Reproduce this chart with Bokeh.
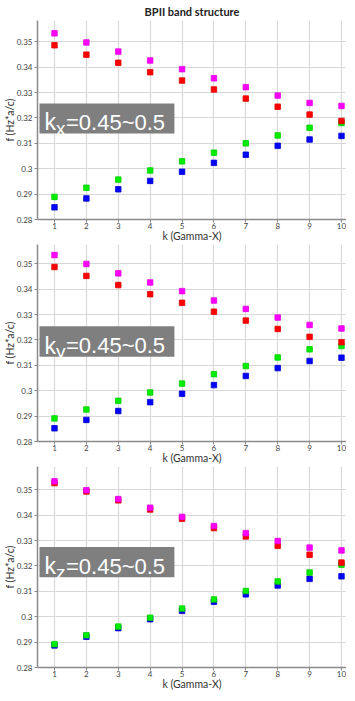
from bokeh.plotting import figure
from bokeh.layouts import column
from bokeh.models import FixedTicker, BoxAnnotation, Label, Range1d, ColumnDataSource
from bokeh.embed import file_html
from bokeh.resources import INLINE

# ---------------- data ----------------
k = [1, 2, 3, 4, 5, 6, 7, 8, 9, 10]

# panel 1: kx = 0.45~0.5
mag_x = [0.3533, 0.3497, 0.3461, 0.3426, 0.3392, 0.3356, 0.3321, 0.3288, 0.3259, 0.3247]
red_x = [0.3486, 0.3449, 0.3417, 0.3380, 0.3347, 0.3312, 0.3276, 0.3244, 0.3213, 0.3188]
grn_x = [0.2889, 0.2925, 0.2957, 0.2993, 0.3029, 0.3063, 0.3100, 0.3131, 0.3161, 0.3180]
blu_x = [0.2848, 0.2883, 0.2919, 0.2952, 0.2988, 0.3023, 0.3055, 0.3090, 0.3115, 0.3129]

# panel 2: ky = 0.45~0.5
mag_y = [0.3534, 0.3499, 0.3462, 0.3426, 0.3392, 0.3355, 0.3322, 0.3288, 0.3259, 0.3245]
red_y = [0.3487, 0.3452, 0.3416, 0.3380, 0.3346, 0.3311, 0.3276, 0.3243, 0.3212, 0.3191]
grn_y = [0.2891, 0.2926, 0.2960, 0.2993, 0.3028, 0.3065, 0.3097, 0.3131, 0.3163, 0.3176]
blu_y = [0.2852, 0.2885, 0.2920, 0.2955, 0.2988, 0.3022, 0.3058, 0.3089, 0.3117, 0.3130]

# panel 3: kz = 0.45~0.5
mag_z = [0.3533, 0.3498, 0.3463, 0.3429, 0.3393, 0.3357, 0.3329, 0.3298, 0.3272, 0.3261]
red_z = [0.3526, 0.3493, 0.3458, 0.3422, 0.3386, 0.3349, 0.3316, 0.3279, 0.3244, 0.3213]
grn_z = [0.2892, 0.2927, 0.2961, 0.2996, 0.3032, 0.3068, 0.3101, 0.3139, 0.3174, 0.3205]
blu_z = [0.2887, 0.2921, 0.2955, 0.2990, 0.3023, 0.3059, 0.3088, 0.3123, 0.3149, 0.3159]

y_ticks = [0.28, 0.29, 0.30, 0.31, 0.32, 0.33, 0.34, 0.35]
y_tick_labels = ["0.28", "0.29", "0.3", "0.31", "0.32", "0.33", "0.34", "0.35"]
x_ticks = k

title_text = "BPII band structure"
x_label = "k (Gamma-X)"
y_label = "f (Hz*a/c)"
panel_subs = ["x", "y", "z"]
panel_value = "=0.45~0.5"

# ---------------- styling ----------------
COL_MAG = "#ff00ff"
COL_RED = "#ff0000"
COL_GRN = "#00ee00"
COL_BLU = "#0000ff"
FONT = "Lato"

PX_PER_UNIT_Y = 2540.0
FRAME_W = 309
X_START, X_END = 0.467, 10.157


def make_panel(series, sub, frame_h, box_y, with_title, bottom_border):
    y_end = 0.28 + frame_h / PX_PER_UNIT_Y
    p = figure(
        width=339,
        frame_width=FRAME_W,
        frame_height=frame_h,
        x_range=Range1d(X_START, X_END),
        y_range=Range1d(0.28, y_end),
        output_backend="svg",
        toolbar_location=None,
        min_border_left=30,
        min_border_right=0,
        min_border_top=0,
        min_border_bottom=bottom_border,
        title=title_text if with_title else None,
    )
    p.outline_line_color = None
    p.background_fill_color = "white"
    p.border_fill_color = "white"
    if with_title:
        p.title.text_font = FONT
        p.title.text_font_size = "11px"
        p.title.text_font_style = "bold"
        p.title.text_color = "#222222"
        p.title.align = "center"
        p.title.standoff = 5
        p.title.offset = 2

    for ax in (p.xaxis, p.yaxis):
        ax.axis_line_color = "#8a8a8a"
        ax.axis_line_width = 1.5
        ax.major_tick_line_color = "#8a8a8a"
        ax.major_tick_in = 0
        ax.major_tick_out = 3
        ax.minor_tick_line_color = None
        ax.major_label_text_font = FONT
        ax.major_label_text_font_size = "8px"
        ax.major_label_text_color = "#444444"
        ax.axis_label_text_font = FONT
        ax.axis_label_text_font_size = "10.5px"
        ax.axis_label_text_font_style = "normal"
        ax.axis_label_text_color = "#333333"

    p.xaxis.ticker = FixedTicker(ticks=x_ticks)
    p.yaxis.ticker = FixedTicker(ticks=y_ticks)
    p.yaxis.major_label_overrides = {t: l for t, l in zip(y_ticks, y_tick_labels)}
    p.xaxis.axis_label = x_label
    p.yaxis.axis_label = y_label
    p.xaxis.major_label_standoff = 0
    p.xaxis.axis_label_standoff = -2
    p.yaxis.major_label_standoff = 2
    p.yaxis.axis_label_standoff = -2

    p.xgrid.grid_line_color = "#d8d8d8"
    p.ygrid.grid_line_color = "#d8d8d8"
    p.xgrid.grid_line_width = 1.2
    p.ygrid.grid_line_width = 1.2

    mag, red, grn, blu = series
    src = ColumnDataSource(dict(k=k, mag=mag, red=red, grn=grn, blu=blu))
    for col, c, edge in (("blu", COL_BLU, "#0000cc"), ("grn", COL_GRN, "#00cc00"),
                         ("red", COL_RED, "#dd0000"), ("mag", COL_MAG, "#e000e0")):
        p.scatter("k", col, source=src, marker="square", size=5.5,
                  fill_color=c, line_color=edge, line_width=0.8)

    # label box
    bx0, bx1 = 0.53, 4.76
    by0, by1 = box_y
    p.add_layout(BoxAnnotation(left=bx0, right=bx1, bottom=by0, top=by1,
                               fill_color="#7f7f7f", fill_alpha=1.0,
                               line_color=None, level="overlay"))
    p.add_layout(Label(x=bx0, y=by0, x_offset=5, y_offset=11, text="k",
                       text_font="Liberation Sans", text_font_size="23px",
                       text_color="white", text_baseline="alphabetic", level="overlay"))
    p.add_layout(Label(x=bx0, y=by0, x_offset=16.5, y_offset=5, text=sub,
                       text_font="Liberation Sans", text_font_size="19px",
                       text_color="white", text_baseline="alphabetic", level="overlay"))
    p.add_layout(Label(x=bx0, y=by0, x_offset=26.5, y_offset=11, text=panel_value,
                       text_font="Liberation Sans", text_font_size="22px",
                       text_color="white", text_baseline="alphabetic", level="overlay"))
    return p


p1 = make_panel((mag_x, red_x, grn_x, blu_x), panel_subs[0], 199, (0.3139, 0.3257), True, 24)
p2 = make_panel((mag_y, red_y, grn_y, blu_y), panel_subs[1], 197, (0.3134, 0.3254), False, 24)
p3 = make_panel((mag_z, red_z, grn_z, blu_z), panel_subs[2], 201, (0.3155, 0.3274), False, 23)

layout = column(p1, p2, p3, spacing=0)
open("out.html", "w").write(file_html(layout, INLINE))
